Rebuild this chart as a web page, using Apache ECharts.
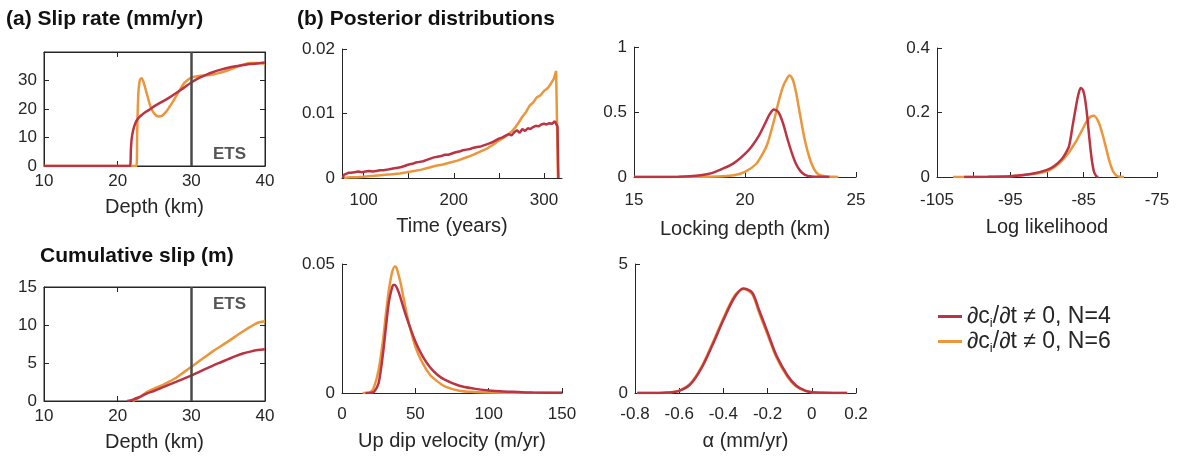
<!DOCTYPE html>
<html>
<head>
<meta charset="utf-8">
<title>Slip rate and posterior distributions</title>
<script src="https://cdn.jsdelivr.net/npm/echarts@6/dist/echarts.min.js"></script>
<style>
  html, body { margin: 0; padding: 0; background: #fff; }
  #main { width: 1179px; height: 456px; }
</style>
</head>
<body>
<div id="main"></div>
<script>
// ---- data ----
// (a) slip rate vs depth
var slipDepthN4 = [10, 21.65, 21.8, 21.9, 22.1, 22.4, 22.8, 23.4, 24, 24.5, 25, 26, 27, 28, 29, 30, 31, 32, 33, 34, 35, 36, 37, 38, 39, 40];
var slipRateN4  = [0, 0, 6, 9.5, 12.5, 15, 16.8, 18.2, 19.3, 20.1, 21, 22.5, 24, 25.7, 27.5, 29.3, 30.8, 32, 33, 33.8, 34.5, 35, 35.4, 35.8, 36, 36.3];
var slipDepthN6 = [10, 22.55, 22.65, 22.8, 23, 23.25, 23.5, 24, 24.5, 25, 25.5, 26, 26.5, 27, 27.5, 28, 28.5, 29, 29.5, 30, 31, 32, 33, 34, 35, 36, 37, 38, 39, 40];
var slipRateN6  = [0, 0, 12, 25, 30, 30.8, 29.5, 25, 20.5, 18.3, 17.4, 17.6, 18.8, 20.6, 22.6, 24.8, 27, 29, 30.2, 31, 31.6, 31.8, 32.1, 32.8, 33.6, 34.6, 35.5, 36.1, 36.1, 35.9];

// cumulative slip vs depth
var cumDepthN4 = [21.3, 22, 23, 24, 25, 26, 27, 28, 29, 30, 31, 32, 33, 34, 35, 36, 37, 38, 39, 40];
var cumSlipN4  = [0, 0.15, 0.55, 1.0, 1.35, 1.75, 2.15, 2.55, 2.95, 3.35, 3.8, 4.25, 4.7, 5.1, 5.5, 5.9, 6.25, 6.5, 6.7, 6.8];
var cumDepthN6 = [22, 22.5, 23, 24, 24.5, 25, 26, 27, 28, 29, 30, 31, 32, 33, 34, 35, 36, 37, 38, 39, 40];
var cumSlipN6  = [0, 0.2, 0.5, 1.2, 1.45, 1.65, 2.05, 2.55, 3.1, 3.8, 4.5, 5.2, 5.9, 6.6, 7.2, 7.85, 8.5, 9.15, 9.75, 10.3, 10.5];

// (b) time
var timeN4 = [77, 78, 80, 83, 86, 90, 94, 98, 102, 106, 110, 114, 118, 122, 126, 130, 134, 138, 142, 146, 150, 154, 158, 162, 166, 170,
  174, 178, 182, 186, 190, 194, 198, 202, 206, 210, 214, 218, 222, 226, 230, 234, 238, 242, 246, 250, 254, 258, 261, 264, 267,
  270, 273, 276, 279, 282, 285, 288, 291, 294, 297, 300, 303, 306, 309, 312, 313.5, 315, 316];
var timePdfN4 = [0, 0.0005, 0.0007, 0.0008, 0.0008, 0.0009, 0.0010, 0.0009, 0.0010, 0.0011, 0.0010, 0.0011, 0.0012, 0.0012, 0.0013,
  0.0014, 0.0015, 0.0016, 0.0017, 0.0019, 0.0021, 0.0022, 0.0024, 0.0025, 0.0026, 0.0028, 0.0030, 0.0032, 0.0033, 0.0034, 0.0036,
  0.0036, 0.0038, 0.0040, 0.0041, 0.0043, 0.0044, 0.0045, 0.0047, 0.0048, 0.0049, 0.0051, 0.0053, 0.0055, 0.0058, 0.0061, 0.0063,
  0.0066, 0.0068, 0.0066, 0.0071, 0.0074, 0.0070, 0.0076, 0.0073, 0.0077, 0.0076, 0.0079, 0.0081, 0.0080, 0.0083, 0.0084, 0.0083,
  0.0085, 0.0084, 0.0088, 0.0090, 0.0080, 0];
var timeN6 = [78, 85, 92, 100, 108, 116, 124, 132, 140, 148, 156, 164, 172, 180, 188, 196, 204, 212, 220, 228, 236, 244, 250, 255,
  260, 264, 268, 272, 276, 280, 284, 288, 292, 296, 300, 304, 308, 311, 313.5, 315.5];
var timePdfN6 = [0, 0.0001, 0.0001, 0.0002, 0.0003, 0.0004, 0.0005, 0.0006, 0.0007, 0.0009, 0.0011, 0.0013, 0.0016, 0.0019, 0.0021,
  0.0024, 0.0027, 0.0031, 0.0035, 0.0040, 0.0045, 0.0052, 0.0058, 0.0062, 0.0067, 0.0072, 0.0078, 0.0086, 0.0095, 0.0102, 0.0112,
  0.0117, 0.0125, 0.0128, 0.0135, 0.0139, 0.0147, 0.0154, 0.0166, 0];

// locking depth
var lockN4 = [15, 17, 17.5, 18, 18.5, 19, 19.5, 20, 20.3, 20.6, 20.9, 21.1, 21.3, 21.5, 21.7, 21.9, 22.1, 22.3, 22.5, 22.7, 23, 23.4, 23.8];
var lockPdfN4 = [0, 0.002, 0.005, 0.013, 0.03, 0.064, 0.107, 0.178, 0.235, 0.31, 0.41, 0.48, 0.52, 0.50, 0.42, 0.30, 0.19, 0.10, 0.045, 0.017, 0.004, 0.001, 0];
var lockN6 = [15, 18, 19, 19.5, 20, 20.5, 20.8, 21, 21.3, 21.5, 21.7, 21.9, 22.0, 22.15, 22.3, 22.5, 22.7, 22.9, 23.1, 23.3, 23.6, 24, 24.2];
var lockPdfN6 = [0, 0.001, 0.005, 0.013, 0.04, 0.10, 0.18, 0.25, 0.43, 0.57, 0.69, 0.76, 0.78, 0.75, 0.65, 0.46, 0.28, 0.15, 0.064, 0.02, 0.005, 0.001, 0];

// log likelihood
var llN4 = [-101.3, -98, -95, -92, -90, -89, -88, -87.5, -87, -86.5, -86, -85.7, -85.4, -85.1, -84.8, -84.5, -84.2, -83.9, -83.6, -83.3, -83];
var llPdfN4 = [0, 0.0005, 0.002, 0.01, 0.022, 0.034, 0.055, 0.072, 0.095, 0.16, 0.225, 0.258, 0.276, 0.27, 0.24, 0.185, 0.115, 0.055, 0.017, 0.003, 0];
var llN6 = [-102.8, -98, -95, -92, -90, -89, -88, -87, -86, -85, -84.5, -84, -83.6, -83, -82.5, -82, -81.5, -81, -80.5, -80, -79.5];
var llPdfN6 = [0, 0.0005, 0.002, 0.009, 0.018, 0.03, 0.05, 0.077, 0.112, 0.155, 0.176, 0.188, 0.19, 0.172, 0.138, 0.095, 0.05, 0.018, 0.004, 0.0005, 0];

// up dip velocity
var udN4 = [16, 20, 22, 25, 28, 30, 32, 34, 35, 36, 38, 40, 42, 45, 50, 55, 60, 65, 70, 80, 90, 100, 110, 120, 130, 150];
var udPdfN4 = [0, 0.0001, 0.0006, 0.0039, 0.0155, 0.0258, 0.0354, 0.0406, 0.0419, 0.0419, 0.040, 0.0367, 0.0329, 0.0277, 0.020, 0.0142,
  0.010, 0.0071, 0.0052, 0.0028, 0.0017, 0.001, 0.0006, 0.0004, 0.0002, 0.0001];
var udN6 = [14, 18, 20, 22, 25, 28, 30, 32, 34, 36, 37, 38, 40, 42, 45, 50, 55, 60, 65, 70, 80, 90, 100, 120, 150];
var udPdfN6 = [0, 0.0001, 0.0006, 0.0026, 0.009, 0.0206, 0.031, 0.040, 0.0464, 0.049, 0.0487, 0.047, 0.0425, 0.0367, 0.0284, 0.018,
  0.0116, 0.0071, 0.0045, 0.0026, 0.0009, 0.0004, 0.0002, 0.0001, 0];

// alpha
var alpha = [-0.79, -0.7, -0.65, -0.6, -0.55, -0.5, -0.45, -0.4, -0.35, -0.31, -0.27, -0.24, -0.2, -0.16, -0.11, -0.07, -0.03, 0, 0.05, 0.1, 0.16];
var alphaPdfN4 = [0, 0.003, 0.015, 0.08, 0.33, 0.95, 1.85, 2.83, 3.7, 4.05, 3.9, 3.25, 2.35, 1.45, 0.68, 0.28, 0.09, 0.03, 0.01, 0.002, 0];
var alphaPdfN6 = [0, 0.003, 0.017, 0.09, 0.36, 1.0, 1.92, 2.9, 3.76, 4.03, 3.84, 3.15, 2.26, 1.38, 0.63, 0.25, 0.08, 0.03, 0.01, 0.002, 0];

var timeTicks = [100, 150, 200, 250, 300];
var timeLabels = [100, 200, 300];
var llTicks = [-100, -95, -90, -85, -80, -75];
var llLabels = [-105, -95, -85, -75];

// ---- styling ----
var RED = '#bb3444', ORANGE = '#ec963c', AX = '#262626';
var FONT = 'Liberation Sans, Arial, sans-serif';

function pairs(xs, ys) {
  return xs.map(function (x, i) { return [x, ys[i]]; });
}

function baseAxis(grid, min, max, interval) {
  return {
    type: 'value', gridIndex: grid, min: min, max: max, interval: interval,
    axisLine: { show: true, onZero: false, lineStyle: { color: AX, width: 1 } },
    axisTick: { show: true, inside: true, length: 5, lineStyle: { color: AX } },
    axisLabel: { fontSize: 17, color: AX, fontFamily: FONT },
    splitLine: { show: false }
  };
}

function xAx(grid, min, max, interval, name, gap, margin) {
  var a = baseAxis(grid, min, max, interval);
  a.position = 'bottom';
  a.name = name; a.nameLocation = 'middle'; a.nameGap = gap;
  a.nameTextStyle = { fontSize: 20, color: AX, fontFamily: FONT };
  a.axisLabel.margin = margin;
  return a;
}

function yAx(grid, min, max, interval) {
  var a = baseAxis(grid, min, max, interval);
  a.position = 'left';
  a.axisLabel.margin = 7;
  return a;
}

// mirror axis for the boxed panels (ticks only)
function mirror(a, pos) {
  var m = baseAxis(a.gridIndex, a.min, a.max, a.interval);
  m.position = pos;
  m.axisLabel = { show: false };
  return m;
}

var xAxes = [], yAxes = [];
// grid 0: slip rate
var x0 = xAx(0, 10, 40, 10, 'Depth (km)', 31, 7);
var y0 = yAx(0, 0, 40, 10); y0.axisLabel.showMaxLabel = false;
xAxes.push(x0, mirror(x0, 'top'));
yAxes.push(y0, mirror(y0, 'right'));
// grid 1: cumulative slip
var x1 = xAx(1, 10, 40, 10, 'Depth (km)', 31, 7);
var y1 = yAx(1, 0, 15, 5);
xAxes.push(x1, mirror(x1, 'top'));
yAxes.push(y1, mirror(y1, 'right'));
// grid 2: time
var x2 = xAx(2, 76, 320, 50, 'Time (years)', 38, 14);
x2.axisTick.customValues = timeTicks;
x2.axisLabel.customValues = timeLabels;
xAxes.push(x2); yAxes.push(yAx(2, 0, 0.02, 0.01));
// grid 3: locking depth
xAxes.push(xAx(3, 15, 25, 5, 'Locking depth (km)', 42, 15)); yAxes.push(yAx(3, 0, 1, 0.5));
// grid 4: log likelihood
var x4 = xAx(4, -105, -75, 5, 'Log likelihood', 40, 15);
x4.axisTick.customValues = llTicks;
x4.axisLabel.customValues = llLabels;
xAxes.push(x4); yAxes.push(yAx(4, 0, 0.4, 0.2));
// grid 5: up dip velocity
xAxes.push(xAx(5, 0, 150, 50, 'Up dip velocity (m/yr)', 38, 13)); yAxes.push(yAx(5, 0, 0.05, 0.05));
// grid 6: alpha
xAxes.push(xAx(6, -0.8, 0.2, 0.2, 'α (mm/yr)', 38, 13)); yAxes.push(yAx(6, 0, 5, 5));

var grids = [
  { left: 44, top: 52, width: 221, height: 114, show: true, borderColor: AX, borderWidth: 1 },
  { left: 44, top: 287, width: 221, height: 114, show: true, borderColor: AX, borderWidth: 1 },
  { left: 342, top: 49, width: 220, height: 129 },
  { left: 634, top: 47, width: 222, height: 130 },
  { left: 937, top: 48, width: 220, height: 129 },
  { left: 342, top: 264, width: 220, height: 129 },
  { left: 635, top: 264, width: 221, height: 129 }
];

var etsLine = {
  silent: true, symbol: ['none', 'none'], label: { show: false },
  lineStyle: { color: '#4a4a4a', width: 2.5, type: 'solid' },
  data: [{ xAxis: 30 }]
};

function line(name, xi, yi, data, smooth, extra) {
  var s = {
    name: name, type: 'line', xAxisIndex: xi, yAxisIndex: yi, data: data,
    showSymbol: false, symbol: 'none', smooth: smooth,
    lineStyle: { width: 2.5, color: name === 'N4' ? RED : ORANGE },
    itemStyle: { color: name === 'N4' ? RED : ORANGE },
    z: name === 'N4' ? 3 : 2
  };
  if (extra) for (var k in extra) s[k] = extra[k];
  return s;
}

var series = [
  line('N6', 0, 0, pairs(slipDepthN6, slipRateN6), 0.3),
  line('N4', 0, 0, pairs(slipDepthN4, slipRateN4), 0.3, { markLine: etsLine }),
  line('N6', 2, 2, pairs(cumDepthN6, cumSlipN6), 0.3),
  line('N4', 2, 2, pairs(cumDepthN4, cumSlipN4), 0.3, { markLine: etsLine }),
  line('N6', 4, 4, pairs(timeN6, timePdfN6), false),
  line('N4', 4, 4, pairs(timeN4, timePdfN4), false),
  line('N6', 5, 5, pairs(lockN6, lockPdfN6), 0.3),
  line('N4', 5, 5, pairs(lockN4, lockPdfN4), 0.3),
  line('N6', 6, 6, pairs(llN6, llPdfN6), 0.3),
  line('N4', 6, 6, pairs(llN4, llPdfN4), 0.3),
  line('N6', 7, 7, pairs(udN6, udPdfN6), 0.3),
  line('N4', 7, 7, pairs(udN4, udPdfN4), 0.3),
  line('N6', 8, 8, pairs(alpha, alphaPdfN6), 0.3),
  line('N4', 8, 8, pairs(alpha, alphaPdfN4), 0.3)
];

var titleStyle = { fontSize: 21, fontWeight: 'bold', color: '#111', fontFamily: FONT };
var etsStyle = { fontSize: 17, fontWeight: 'bold', color: '#555', fontFamily: FONT };

var option = {
  animation: false,
  backgroundColor: '#fff',
  textStyle: { fontFamily: FONT },
  title: [
    { text: '(a) Slip rate (mm/yr)', left: 6, top: 9, textStyle: titleStyle, padding: 0 },
    { text: '(b) Posterior distributions', left: 297, top: 9, textStyle: titleStyle, padding: 0 },
    { text: 'Cumulative slip (m)', left: 40, top: 246, textStyle: titleStyle, padding: 0 },
    { text: 'ETS', left: 213, top: 146, textStyle: etsStyle, padding: 0 },
    { text: 'ETS', left: 213, top: 296, textStyle: etsStyle, padding: 0 }
  ],
  legend: {
    data: ['N4', 'N6'], orient: 'vertical', left: 933, top: 300,
    icon: 'rect', itemWidth: 24, itemHeight: 3, itemGap: 0,
    formatter: function (name) {
      return '{a|∂c}{s|i}{a|/∂t ≠ 0, ' + (name === 'N4' ? 'N=4' : 'N=6') + '}';
    },
    textStyle: {
      color: AX, fontFamily: FONT,
      rich: {
        a: { fontSize: 23, lineHeight: 27, color: AX, fontFamily: FONT },
        s: { fontSize: 13, lineHeight: 27, color: AX, fontFamily: FONT, verticalAlign: 'bottom' }
      }
    }
  },
  grid: grids,
  xAxis: xAxes,
  yAxis: yAxes,
  series: series
};

var chart = echarts.init(document.getElementById('main'));
chart.setOption(option);
</script>
</body>
</html>
